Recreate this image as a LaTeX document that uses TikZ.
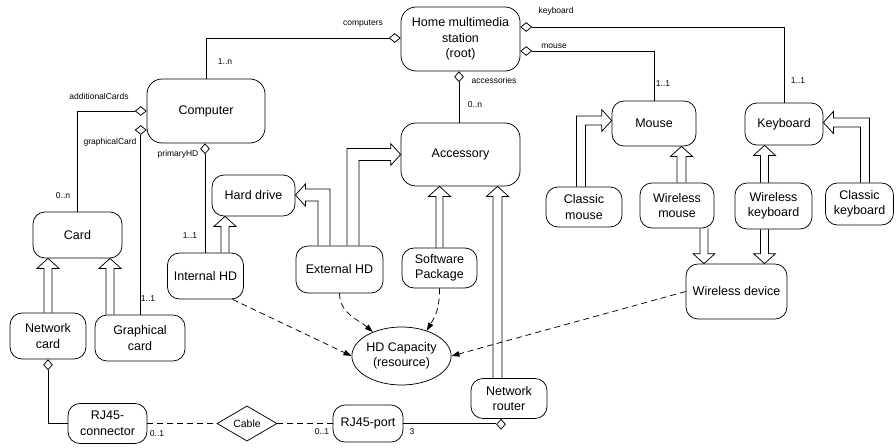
\documentclass[tikz,border=0pt]{standalone}
\usepackage{fontspec}
\setmainfont{Liberation Sans}
\usetikzlibrary{shapes.geometric,calc,arrows.meta}

% Generalisation arrow drawn as a hollow double-line shaft with an open head.
% #1 start point, #2 tip point, #3 half width of the shaft (with unit)
\newcommand\genarrow[3]{%
  \coordinate (gh) at ($(#2)!10pt!(#1)$);
  \draw ($(#1)!#3!90:(#2)$) -- ($(gh)!#3!90:(#2)$) -- ($(gh)!11pt!90:(#2)$) -- (#2)
        -- ($(gh)!11pt!-90:(#2)$) -- ($(gh)!#3!-90:(#2)$) -- ($(#1)!#3!-90:(#2)$);}
% Same arrow with one bend: vertical out of the source, horizontal into the target.
% #1 start, #2 tip, #3 half width, #4 horizontal direction (+1/-1), #5 vertical direction (+1/-1)
\newcommand\genelbow[5]{%
  \draw ($(#1)+({-(#4)*(#3)},0)$) |- ($(#2)+({-(#4)*10},{(#5)*(#3)})$)
        -- ($(#2)+({-(#4)*10},{(#5)*11})$) -- (#2)
        -- ($(#2)+({-(#4)*10},{-(#5)*11})$) -- ($(#2)+({-(#4)*10},{-(#5)*(#3)})$)
        -| ($(#1)+({(#4)*(#3)},0)$);}

\begin{document}
\begin{tikzpicture}[x=1pt,y=-1pt,line width=0.75pt,
  box/.style={draw, rounded corners=12pt, align=center, inner sep=2pt,
              font=\fontsize{12.5}{15.5}\selectfont},
  bigbox/.style={box, rounded corners=15pt},
  agg/.style={diamond, draw, fill=white, inner sep=0pt, minimum width=11pt, minimum height=9pt},
  aggv/.style={diamond, draw, fill=white, inner sep=0pt, minimum width=9pt, minimum height=10pt},
  lbl/.style={font=\fontsize{8.5}{10}\selectfont, inner sep=0pt},
  dashline/.style={dash pattern=on 6pt off 4pt},
  dep/.style={dashline, -{Triangle[length=8pt,width=5.5pt]}}]

\useasboundingbox (0,0) rectangle (896,447);

% ---------- classes ----------
\node[bigbox, minimum width=119pt, minimum height=64pt] (home) at (460.5,39) {Home multimedia\\station\\(root)};
\node[bigbox, minimum width=118pt, minimum height=64pt] (computer) at (206,111) {Computer};
\node[bigbox, minimum width=119pt, minimum height=63pt] (accessory) at (460.5,154.5) {Accessory};
\node[box, minimum width=89pt, minimum height=46pt] (card) at (77.5,235) {Card};
\node[box, minimum width=76pt, minimum height=46pt] (netcard) at (48,336) {Network\\card};
\node[box, minimum width=90pt, minimum height=46pt] (gcard) at (140,338) {Graphical\\card};
\node[box, minimum width=83pt, minimum height=41pt] (harddrive) at (253.5,195.5) {Hard drive};
\node[box, minimum width=76pt, minimum height=46pt] (internalhd) at (205.5,276) {Internal HD};
\node[box, minimum width=87pt, minimum height=47pt] (externalhd) at (339.5,269.5) {External HD};
\node[box, minimum width=75pt, minimum height=40pt] (software) at (439.5,268) {Software\\Package};
\node[box, minimum width=84pt, minimum height=45pt] (mouse) at (654,123.5) {Mouse};
\node[box, minimum width=78pt, minimum height=42pt] (keyboard) at (784,124) {Keyboard};
\node[box, minimum width=76pt, minimum height=40pt] (classicmouse) at (584,207) {Classic\\mouse};
\node[box, minimum width=74pt, minimum height=45pt] (wmouse) at (677,205.5) {Wireless\\mouse};
\node[box, minimum width=77pt, minimum height=46pt] (wkeyboard) at (773.5,206) {Wireless\\keyboard};
\node[box, minimum width=68pt, minimum height=42pt] (classickb) at (859.5,204) {Classic\\keyboard};
\node[box, minimum width=101pt, minimum height=55pt] (wdevice) at (736.5,291.5) {Wireless device};
\node[ellipse, draw, align=center, inner sep=0pt, minimum width=97pt, minimum height=58pt,
      font=\fontsize{12.5}{15.5}\selectfont] (hdcap) at (401.5,356) {HD Capacity\\(resource)};
\node[box, minimum width=76pt, minimum height=40pt] (router) at (509,398.5) {Network\\router};
\node[box, minimum width=79pt, minimum height=40pt] (rj45c) at (107.5,423.5) {RJ45-\\connector};
\node[diamond, draw, inner sep=0pt, minimum width=60pt, minimum height=35pt,
      font=\fontsize{10.5}{12}\selectfont] (cable) at (247,423.5) {Cable};
\node[box, minimum width=70pt, minimum height=37pt] (rj45p) at (368,423.5) {RJ45-port};

% ---------- aggregations ----------
\node[agg, anchor=east] (dcomp) at ([yshift=1pt]home.west) {};
\draw (dcomp.west) -| (computer.north);
\node[agg, anchor=east] (dadd) at (computer.west) {};
\draw (dadd.west) -| (card.north);
\node[agg, anchor=east] (dgc) at ([yshift=-19pt]computer.west) {};
\draw (dgc.south) -- (dgc.south |- gcard.north);
\node[aggv, anchor=north] (dphd) at ([xshift=-1pt]computer.south) {};
\draw (dphd.south) -- (dphd.south |- internalhd.north);
\node[aggv, anchor=north] (dacc) at ([xshift=-1.5pt]home.south) {};
\draw (dacc.south) -- (dacc.south |- accessory.north);
\node[agg, anchor=west] (dkb) at ([yshift=12pt]home.east) {};
\draw (dkb.east) -| (keyboard.north);
\node[agg, anchor=west] (dms) at ([yshift=-12pt]home.east) {};
\draw (dms.east) -| (mouse.north);
\node[aggv, anchor=north] (dnc) at (netcard.south) {};
\draw (dnc.south) |- (rj45c.west);
\node[aggv, anchor=north] (drt) at ([xshift=-8pt]router.south) {};
\draw (rj45p.east) -- (rj45p.east -| drt.west);

% cable association
\draw[dashline] (rj45c.east) -- (cable.west);
\draw[dashline] (cable.east) -- (rj45p.west);

% ---------- role names and multiplicities ----------
\node[lbl] at (363,24) {computers};
\node[lbl] at (225,62) {1..n};
\node[lbl] at (99,96) {additionalCards};
\node[lbl] at (110,142) {graphicalCard};
\node[lbl] at (63,196) {0..n};
\node[lbl] at (148,299) {1..1};
\node[lbl] at (178,154) {primaryHD};
\node[lbl] at (190,236) {1..1};
\node[lbl] at (494,80) {accessories};
\node[lbl] at (475,105) {0..n};
\node[lbl] at (556,11) {keyboard};
\node[lbl] at (798,81) {1..1};
\node[lbl] at (554,46) {mouse};
\node[lbl] at (663,84) {1..1};
\node[lbl] at (157,434) {0..1};
\node[lbl] at (322,432) {0..1};
\node[lbl] at (412,432) {3};

% ---------- generalisations ----------
\coordinate (g1s) at (netcard.north);            \coordinate (g1t) at (g1s |- card.south);
\genarrow{g1s}{g1t}{4pt}
\coordinate (g2s) at ($(gcard.north)+(-30,0)$);   \coordinate (g2t) at (g2s |- card.south);
\genarrow{g2s}{g2t}{4pt}
\coordinate (g3s) at ($(internalhd.north)+(19.5,0)$); \coordinate (g3t) at (g3s |- harddrive.south);
\genarrow{g3s}{g3t}{4pt}
\coordinate (g4s) at (software.north);           \coordinate (g4t) at (g4s |- accessory.south);
\genarrow{g4s}{g4t}{3.5pt}
\coordinate (g5s) at ($(router.north)+(-11.5,0)$); \coordinate (g5t) at (g5s |- accessory.south);
\genarrow{g5s}{g5t}{4.5pt}
\coordinate (g6s) at ($(wmouse.north)+(4.5,0)$);  \coordinate (g6t) at (g6s |- mouse.south);
\genarrow{g6s}{g6t}{4.5pt}
\coordinate (g7s) at ($(wmouse.south)+(27,0)$);   \coordinate (g7t) at (g7s |- wdevice.north);
\genarrow{g7s}{g7t}{4pt}
\coordinate (g8s) at ($(wkeyboard.north)+(-9,0)$); \coordinate (g8t) at (g8s |- keyboard.south);
\genarrow{g8s}{g8t}{4pt}
\coordinate (g9s) at ($(wkeyboard.south)+(-9,0)$); \coordinate (g9t) at (g9s |- wdevice.north);
\genarrow{g9s}{g9t}{4pt}

\coordinate (e1s) at ($(externalhd.north)+(-15.5,0)$); \coordinate (e1t) at ($(harddrive.east)+(0,-0.5)$);
\genelbow{e1s}{e1t}{6}{-1}{-1}
\coordinate (e2s) at ($(externalhd.north)+(13.5,0)$);  \coordinate (e2t) at (accessory.west);
\genelbow{e2s}{e2t}{6}{1}{-1}
\coordinate (e3s) at ($(classicmouse.north)+(-3,0)$);  \coordinate (e3t) at ($(mouse.west)+(0,-3)$);
\genelbow{e3s}{e3t}{4.5}{1}{-1}
\coordinate (e4s) at ($(classickb.north)+(5.5,0)$);    \coordinate (e4t) at ($(keyboard.east)+(0,-1.5)$);
\genelbow{e4s}{e4t}{4.5}{-1}{-1}

% ---------- resource dependencies ----------
\draw[dep] ([xshift=27pt]internalhd.south) -- (hdcap.west);
\draw[dep] (externalhd.south) .. controls +(0,20) and +(-14,-12) .. (hdcap.140);
\draw[dep] (software.south) .. controls +(0,22) and +(8,-14) .. (hdcap.45);
\draw[dep] (wdevice.west) -- (hdcap.east);

\end{tikzpicture}
\end{document}
